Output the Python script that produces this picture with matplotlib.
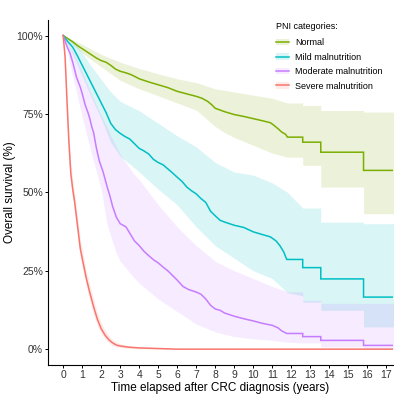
import matplotlib
matplotlib.use("Agg")
import matplotlib.pyplot as plt
from matplotlib.lines import Line2D
from matplotlib.patches import Patch

plt.rcParams['font.family'] = ['Liberation Sans', 'DejaVu Sans']

categories = ["Normal", "Mild malnutrition", "Moderate malnutrition", "Severe malnutrition"]
colors = ["#7CAE00", "#00BFC4", "#C77CFF", "#F8766D"]

# Normal (repeated times mark the vertical drops of the Kaplan-Meier steps)
t_normal = [0, 0.25, 0.5, 0.75, 1.0, 1.25, 1.5, 1.75, 2.0, 2.25, 2.5, 2.75, 3.0, 3.25, 3.5, 3.75,
            4.0, 4.5, 5.0, 5.5, 6.0, 6.5, 7.0, 7.3, 7.6, 7.8, 8.0, 8.5, 9.0, 9.5, 10.0, 10.5,
            10.9, 11.1, 11.3, 11.5, 11.7, 11.8, 12.6, 12.6, 13.55, 13.55, 15.8, 15.8, 17.4]
s_normal = [1.0, 0.99, 0.98, 0.968, 0.958, 0.948, 0.938, 0.928, 0.92, 0.915, 0.905, 0.893, 0.886,
            0.882, 0.877, 0.870, 0.862, 0.852, 0.843, 0.834, 0.822, 0.814, 0.806, 0.800, 0.79,
            0.78, 0.768, 0.757, 0.748, 0.742, 0.735, 0.728, 0.722, 0.713, 0.703, 0.692, 0.685,
            0.676, 0.676, 0.660, 0.660, 0.628, 0.628, 0.570, 0.570]
ci_t_normal = [0, 1, 2, 3, 4, 5, 6, 7, 8, 8.5, 9, 10, 11, 11.8, 12.6, 12.6, 13.55, 13.55, 15.8, 15.8, 17.4]
up_normal = [1.0, 0.972, 0.94, 0.915, 0.895, 0.878, 0.862, 0.85, 0.83, 0.825, 0.82, 0.81, 0.80,
             0.785, 0.785, 0.777, 0.777, 0.761, 0.761, 0.756, 0.756]
lo_normal = [1.0, 0.944, 0.90, 0.857, 0.83, 0.808, 0.785, 0.762, 0.71, 0.69, 0.675, 0.65, 0.625,
             0.612, 0.612, 0.586, 0.586, 0.517, 0.517, 0.432, 0.432]

# Mild malnutrition
t_mild = [0, 0.25, 0.5, 0.75, 1.0, 1.25, 1.5, 1.75, 2.0, 2.25, 2.5, 2.75, 3.0, 3.25, 3.5, 3.75,
          4.0, 4.25, 4.5, 4.75, 5.0, 5.25, 5.5, 5.75, 6.0, 6.25, 6.5, 6.75, 7.0, 7.25, 7.5, 7.75,
          8.0, 8.25, 8.5, 9.0, 9.5, 10.0, 10.5, 10.9, 11.2, 11.4, 11.6, 11.76, 12.6, 12.6,
          13.55, 13.55, 15.8, 15.8, 17.4]
s_mild = [1.0, 0.98, 0.963, 0.935, 0.905, 0.875, 0.845, 0.815, 0.785, 0.755, 0.72, 0.70, 0.688,
          0.678, 0.670, 0.655, 0.64, 0.632, 0.622, 0.605, 0.595, 0.588, 0.575, 0.562, 0.548, 0.535,
          0.517, 0.505, 0.495, 0.48, 0.468, 0.44, 0.425, 0.411, 0.405, 0.395, 0.388, 0.374, 0.365,
          0.358, 0.345, 0.33, 0.31, 0.286, 0.286, 0.26, 0.26, 0.224, 0.224, 0.166, 0.166]
ci_t_mild = [0, 0.5, 1, 1.5, 2, 2.5, 3, 4, 5, 6, 7, 8, 9, 10, 11, 11.8, 12.6, 12.6, 13.55, 13.55,
             15.8, 15.8, 17.4]
up_mild = [1.0, 0.985, 0.945, 0.90, 0.86, 0.82, 0.79, 0.76, 0.72, 0.68, 0.645, 0.595, 0.565, 0.555,
           0.53, 0.50, 0.45, 0.45, 0.45, 0.405, 0.405, 0.40, 0.40]
lo_mild = [1.0, 0.94, 0.87, 0.80, 0.735, 0.66, 0.615, 0.565, 0.51, 0.46, 0.39, 0.33, 0.29, 0.25,
           0.225, 0.18, 0.17, 0.15, 0.15, 0.124, 0.124, 0.071, 0.071]

# Moderate malnutrition
t_moderate = [0, 0.2, 0.35, 0.5, 0.7, 0.9, 1.0, 1.15, 1.3, 1.4, 1.5, 1.6, 1.75, 1.9, 2.1, 2.3, 2.45,
              2.6, 2.8, 3.0, 3.3, 3.5, 3.75, 4.0, 4.25, 4.5, 4.75, 5.0, 5.25, 5.5, 5.75, 6.0, 6.3,
              6.6, 7.0, 7.25, 7.5, 7.75, 8.0, 8.25, 8.5, 9.0, 9.5, 10.0, 10.5, 11.0, 11.3, 11.5,
              11.76, 12.6, 12.6, 13.55, 13.55, 15.8, 15.8, 17.4]
s_moderate = [1.0, 0.965, 0.945, 0.915, 0.867, 0.835, 0.815, 0.78, 0.755, 0.735, 0.71, 0.69, 0.64,
              0.60, 0.565, 0.52, 0.49, 0.455, 0.42, 0.40, 0.39, 0.37, 0.345, 0.33, 0.312, 0.298,
              0.285, 0.275, 0.262, 0.25, 0.235, 0.22, 0.20, 0.19, 0.182, 0.175, 0.16, 0.14, 0.128,
              0.124, 0.115, 0.105, 0.097, 0.09, 0.082, 0.076, 0.068, 0.058, 0.05, 0.05, 0.04,
              0.04, 0.028, 0.028, 0.012, 0.012]
ci_t_moderate = [0, 0.5, 1, 1.5, 2, 2.3, 2.5, 2.8, 3, 3.7, 4, 5, 6, 7, 8, 9, 10, 11, 11.8, 12.6,
                 12.6, 13.55, 13.55, 15.8, 15.8, 17.4]
up_moderate = [1.0, 0.95, 0.885, 0.81, 0.745, 0.71, 0.68, 0.645, 0.62, 0.56, 0.54, 0.46, 0.39, 0.33,
               0.28, 0.25, 0.225, 0.20, 0.183, 0.183, 0.156, 0.156, 0.146, 0.146, 0.146, 0.146]
lo_moderate = [1.0, 0.87, 0.74, 0.62, 0.51, 0.40, 0.36, 0.305, 0.28, 0.23, 0.21, 0.16, 0.12, 0.08,
               0.055, 0.04, 0.033, 0.028, 0.022, 0.02, 0.02, 0.02, 0.007, 0.007, 0.002, 0.002]

# Severe malnutrition
t_severe = [0, 0.1, 0.2, 0.3, 0.4, 0.5, 0.6, 0.7, 0.8, 0.9, 1.0, 1.2, 1.4, 1.6, 1.8, 2.0, 2.2, 2.4,
            2.6, 2.8, 3.0, 3.5, 4.0, 5.0, 6.0, 17.4]
s_severe = [1.0, 0.93, 0.79, 0.66, 0.56, 0.51, 0.47, 0.42, 0.37, 0.32, 0.29, 0.23, 0.18, 0.135,
            0.095, 0.065, 0.045, 0.03, 0.02, 0.013, 0.01, 0.006, 0.004, 0.002, 0.0, 0.0]
up_severe = [1.0, 0.95, 0.82, 0.69, 0.59, 0.54, 0.50, 0.45, 0.40, 0.35, 0.32, 0.255, 0.205, 0.16,
             0.115, 0.085, 0.06, 0.043, 0.03, 0.022, 0.017, 0.011, 0.008, 0.005, 0.002, 0.002]
lo_severe = [1.0, 0.91, 0.76, 0.63, 0.53, 0.48, 0.44, 0.39, 0.34, 0.29, 0.26, 0.205, 0.155, 0.11,
             0.075, 0.05, 0.033, 0.02, 0.012, 0.007, 0.005, 0.002, 0.001, 0.0, 0.0, 0.0]

x_ticks = list(range(0, 18))
y_ticks = [0, 0.25, 0.5, 0.75, 1.0]
y_ticklabels = ["0%", "25%", "50%", "75%", "100%"]

series = [
    (t_normal, s_normal, ci_t_normal, up_normal, lo_normal),
    (t_mild, s_mild, ci_t_mild, up_mild, lo_mild),
    (t_moderate, s_moderate, ci_t_moderate, up_moderate, lo_moderate),
    (t_severe, s_severe, t_severe, up_severe, lo_severe),
]

fig = plt.figure(figsize=(4.0, 3.97), dpi=100)
ax = fig.add_axes([0.12, 0.081, 0.8625, 0.869])

for (t, s, ct, up, lo), c in zip(series, colors):
    ax.fill_between(ct, lo, up, color=c, alpha=0.15, linewidth=0)
for (t, s, ct, up, lo), c in zip(series, colors):
    ax.plot(t, s, color=c, linewidth=1.1, solid_joinstyle="miter")

ax.set_xlim(-0.8, 17.35)
ax.set_ylim(-0.05, 1.05)
ax.set_xticks(x_ticks)
ax.set_yticks(y_ticks)
ax.set_yticklabels(y_ticklabels)
ax.tick_params(axis="both", labelsize=7.5, colors="black", labelcolor="#333333",
               length=2.2, width=0.7, pad=1.5)
for side in ["top", "right"]:
    ax.spines[side].set_visible(False)
for side in ["left", "bottom"]:
    ax.spines[side].set_linewidth(0.8)

ax.set_xlabel("Time elapsed after CRC diagnosis (years)", fontsize=8.5, labelpad=1.5)
ax.set_ylabel("Overall survival (%)", fontsize=8.5, labelpad=0.5)

handles = [(Patch(facecolor=c, alpha=0.15, linewidth=0), Line2D([0], [0], color=c, linewidth=1.1))
           for c in colors]
leg = ax.legend(handles, categories, title="PNI categories:", loc="upper left",
                bbox_to_anchor=(0.637, 1.016), frameon=False, fontsize=6.5,
                title_fontsize=6.5, handlelength=1.4, handletextpad=0.7,
                labelspacing=0.6)
leg._legend_box.align = "left"
leg._legend_box.sep = 5

fig.savefig("out.png", dpi=100)
